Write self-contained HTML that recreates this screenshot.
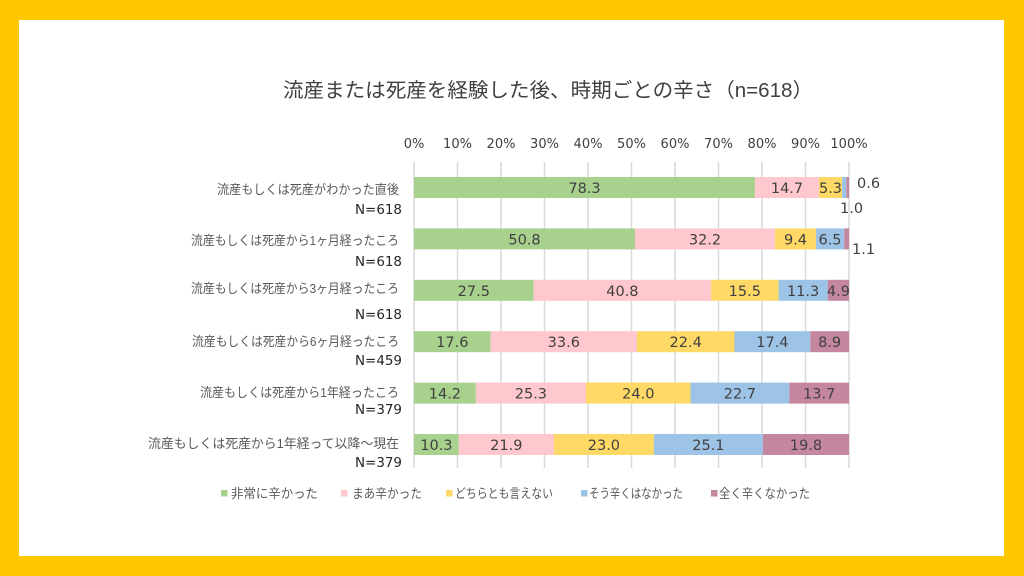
<!DOCTYPE html>
<html><head><meta charset="utf-8"><style>
html,body{margin:0;padding:0;background:#FFC700;}
svg{display:block;}
</style></head><body>
<svg width="1024" height="576" viewBox="0 0 1024 576" xmlns="http://www.w3.org/2000/svg">
<rect x="0" y="0" width="1024" height="576" fill="#FFC700"/>
<rect x="19" y="20" width="985" height="536" fill="#ffffff"/>

<!-- title -->
<text x="283" y="97" font-family="'Liberation Sans','Noto Sans CJK JP',sans-serif" font-size="20" fill="#404040" textLength="530" lengthAdjust="spacingAndGlyphs">流産または死産を経験した後、時期ごとの辛さ（n=618）</text>

<!-- tick labels -->
<g font-family="'DejaVu Sans',sans-serif" font-size="13" fill="#404040" text-anchor="middle">
<text x="414" y="148">0%</text>
<text x="457.5" y="148">10%</text>
<text x="501" y="148">20%</text>
<text x="544.5" y="148">30%</text>
<text x="588" y="148">40%</text>
<text x="631.5" y="148">50%</text>
<text x="675" y="148">60%</text>
<text x="718.5" y="148">70%</text>
<text x="762" y="148">80%</text>
<text x="805.5" y="148">90%</text>
<text x="849" y="148">100%</text>
</g>

<!-- gridlines -->
<g stroke="#d9d9d9" stroke-width="1.5">
<line x1="414" y1="162" x2="414" y2="468"/>
<line x1="457.5" y1="162" x2="457.5" y2="468"/>
<line x1="501" y1="162" x2="501" y2="468"/>
<line x1="544.5" y1="162" x2="544.5" y2="468"/>
<line x1="588" y1="162" x2="588" y2="468"/>
<line x1="631.5" y1="162" x2="631.5" y2="468"/>
<line x1="675" y1="162" x2="675" y2="468"/>
<line x1="718.5" y1="162" x2="718.5" y2="468"/>
<line x1="762" y1="162" x2="762" y2="468"/>
<line x1="805.5" y1="162" x2="805.5" y2="468"/>
<line x1="849" y1="162" x2="849" y2="468"/>
</g>

<!-- bars -->
<g>
<!-- row1 y=177 -->
<rect x="414" y="177" width="340.95" height="21" fill="#A9D18E"/>
<rect x="754.95" y="177" width="64.01" height="21" fill="#FFC7CE"/>
<rect x="818.96" y="177" width="23.08" height="21" fill="#FFD966"/>
<rect x="842.04" y="177" width="4.35" height="21" fill="#9DC3E6"/>
<rect x="846.39" y="177" width="2.61" height="21" fill="#C5869F"/>
<!-- row2 y=228.4 -->
<rect x="414" y="228.4" width="220.98" height="21" fill="#A9D18E"/>
<rect x="634.98" y="228.4" width="140.07" height="21" fill="#FFC7CE"/>
<rect x="775.05" y="228.4" width="40.89" height="21" fill="#FFD966"/>
<rect x="815.94" y="228.4" width="28.28" height="21" fill="#9DC3E6"/>
<rect x="844.22" y="228.4" width="4.78" height="21" fill="#C5869F"/>
<!-- row3 y=279.8 -->
<rect x="414" y="279.8" width="119.63" height="21" fill="#A9D18E"/>
<rect x="533.63" y="279.8" width="177.48" height="21" fill="#FFC7CE"/>
<rect x="711.11" y="279.8" width="67.43" height="21" fill="#FFD966"/>
<rect x="778.54" y="279.8" width="49.16" height="21" fill="#9DC3E6"/>
<rect x="827.7" y="279.8" width="21.3" height="21" fill="#C5869F"/>
<!-- row4 y=331.2 -->
<rect x="414" y="331.2" width="76.64" height="21" fill="#A9D18E"/>
<rect x="490.64" y="331.2" width="146.31" height="21" fill="#FFC7CE"/>
<rect x="636.95" y="331.2" width="97.54" height="21" fill="#FFD966"/>
<rect x="734.49" y="331.2" width="75.77" height="21" fill="#9DC3E6"/>
<rect x="810.26" y="331.2" width="38.74" height="21" fill="#C5869F"/>
<!-- row5 y=382.6 -->
<rect x="414" y="382.6" width="61.83" height="21" fill="#A9D18E"/>
<rect x="475.83" y="382.6" width="110.17" height="21" fill="#FFC7CE"/>
<rect x="586" y="382.6" width="104.5" height="21" fill="#FFD966"/>
<rect x="690.5" y="382.6" width="98.85" height="21" fill="#9DC3E6"/>
<rect x="789.35" y="382.6" width="59.65" height="21" fill="#C5869F"/>
<!-- row6 y=434 -->
<rect x="414" y="434" width="44.76" height="21" fill="#A9D18E"/>
<rect x="458.76" y="434" width="95.17" height="21" fill="#FFC7CE"/>
<rect x="553.93" y="434" width="99.95" height="21" fill="#FFD966"/>
<rect x="653.88" y="434" width="109.08" height="21" fill="#9DC3E6"/>
<rect x="762.96" y="434" width="86.04" height="21" fill="#C5869F"/>
</g>

<!-- data labels -->
<g font-family="'DejaVu Sans',sans-serif" font-size="14.5" fill="#404040" text-anchor="middle">
<text x="584.5" y="193">78.3</text>
<text x="787" y="193">14.7</text>
<text x="830.5" y="193">5.3</text>

<text x="524.5" y="244.4">50.8</text>
<text x="705" y="244.4">32.2</text>
<text x="795.5" y="244.4">9.4</text>
<text x="830" y="244.4">6.5</text>

<text x="473.8" y="295.8">27.5</text>
<text x="622.4" y="295.8">40.8</text>
<text x="744.8" y="295.8">15.5</text>
<text x="803.1" y="295.8">11.3</text>
<text x="838.4" y="295.8">4.9</text>

<text x="452.3" y="347.2">17.6</text>
<text x="563.8" y="347.2">33.6</text>
<text x="685.7" y="347.2">22.4</text>
<text x="772.4" y="347.2">17.4</text>
<text x="829.6" y="347.2">8.9</text>

<text x="444.9" y="398.6">14.2</text>
<text x="530.9" y="398.6">25.3</text>
<text x="638.3" y="398.6">24.0</text>
<text x="739.9" y="398.6">22.7</text>
<text x="819.2" y="398.6">13.7</text>

<text x="436.4" y="450">10.3</text>
<text x="506.3" y="450">21.9</text>
<text x="603.9" y="450">23.0</text>
<text x="708.4" y="450">25.1</text>
<text x="806" y="450">19.8</text>
</g>
<g font-family="'DejaVu Sans',sans-serif" font-size="14.5" fill="#404040">
<text x="857" y="188">0.6</text>
<text x="840" y="213">1.0</text>
<text x="852" y="254">1.1</text>
</g>

<!-- category labels -->
<g font-family="'Liberation Sans','Noto Sans CJK JP',sans-serif" font-size="13" fill="#595959" text-anchor="end">
<text x="399" y="194" textLength="182" lengthAdjust="spacingAndGlyphs">流産もしくは死産がわかった直後</text>
<text x="399" y="245" textLength="208" lengthAdjust="spacingAndGlyphs">流産もしくは死産から1ヶ月経ったころ</text>
<text x="399" y="293" textLength="208" lengthAdjust="spacingAndGlyphs">流産もしくは死産から3ヶ月経ったころ</text>
<text x="399" y="346" textLength="207" lengthAdjust="spacingAndGlyphs">流産もしくは死産から6ヶ月経ったころ</text>
<text x="399" y="397" textLength="199" lengthAdjust="spacingAndGlyphs">流産もしくは死産から1年経ったころ</text>
<text x="399" y="448" textLength="251" lengthAdjust="spacingAndGlyphs">流産もしくは死産から1年経って以降～現在</text>
</g>
<g font-family="'DejaVu Sans',sans-serif" font-size="13.5" fill="#262626" text-anchor="end">
<text x="402" y="214" textLength="47" lengthAdjust="spacingAndGlyphs">N=618</text>
<text x="402" y="266" textLength="47" lengthAdjust="spacingAndGlyphs">N=618</text>
<text x="402" y="319" textLength="47" lengthAdjust="spacingAndGlyphs">N=618</text>
<text x="402" y="365" textLength="47" lengthAdjust="spacingAndGlyphs">N=459</text>
<text x="402" y="414" textLength="47" lengthAdjust="spacingAndGlyphs">N=379</text>
<text x="402" y="467" textLength="47" lengthAdjust="spacingAndGlyphs">N=379</text>
</g>

<!-- legend -->
<rect x="221" y="490" width="6.5" height="6.5" fill="#A9D18E"/>
<rect x="341" y="490" width="6.5" height="6.5" fill="#FFC7CE"/>
<rect x="446" y="490" width="6.5" height="6.5" fill="#FFD966"/>
<rect x="581" y="490" width="6.5" height="6.5" fill="#9DC3E6"/>
<rect x="711" y="490" width="6.5" height="6.5" fill="#C5869F"/>
<g font-family="'Liberation Sans','Noto Sans CJK JP',sans-serif" font-size="13" fill="#595959">
<text x="231" y="498" textLength="87" lengthAdjust="spacingAndGlyphs">非常に辛かった</text>
<text x="352" y="498" textLength="70" lengthAdjust="spacingAndGlyphs">まあ辛かった</text>
<text x="455" y="498" textLength="98" lengthAdjust="spacingAndGlyphs">どちらとも言えない</text>
<text x="589" y="498" textLength="94" lengthAdjust="spacingAndGlyphs">そう辛くはなかった</text>
<text x="719" y="498" textLength="91" lengthAdjust="spacingAndGlyphs">全く辛くなかった</text>
</g>
</svg>
</body></html>
